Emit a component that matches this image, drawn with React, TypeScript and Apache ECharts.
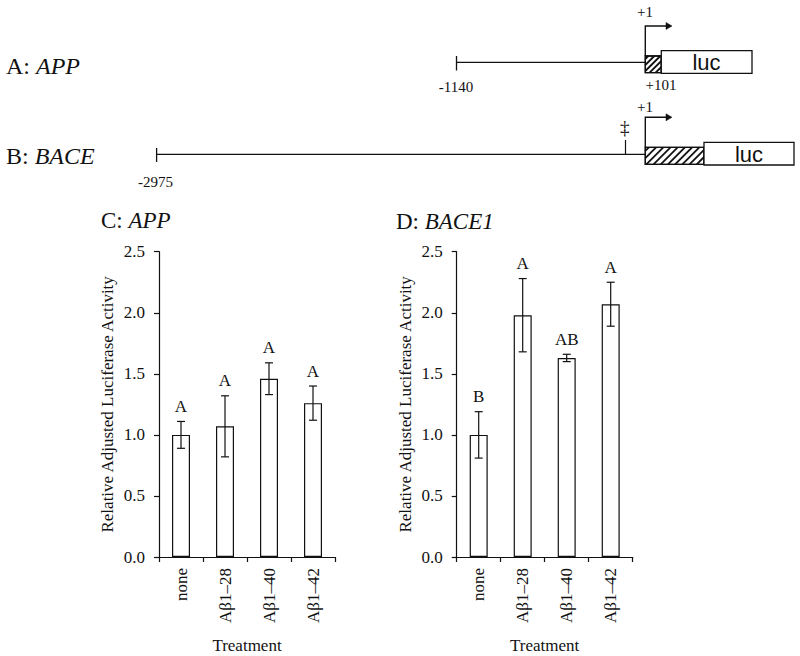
import React, { useEffect, useRef } from "react";
import * as echarts from "echarts";

const categories = ["none", "Aβ1–28", "Aβ1–40", "Aβ1–42"];
const yTicks = [0, 0.5, 1.0, 1.5, 2.0, 2.5];

const appMeans = [1.0, 1.07, 1.46, 1.26];
const appErrors = [0.11, 0.25, 0.13, 0.14];
const appLetters = ["A", "A", "A", "A"];

const baceMeans = [1.0, 1.98, 1.63, 2.07];
const baceErrors = [0.19, 0.3, 0.03, 0.18];
const baceLetters = ["B", "A", "AB", "A"];

const SERIF = "'Liberation Serif', 'Times New Roman', serif";
const SANS = "'Liberation Sans', Arial, sans-serif";
const INK = "#111";

function hatchLines(x0: number, y0: number, w: number, h: number, step: number) {
  const out: any[] = [];
  for (let c = x0 + y0 + step / 2; c < x0 + w + y0 + h; c += step) {
    const xa = Math.max(x0, c - (y0 + h));
    const xb = Math.min(x0 + w, c - y0);
    if (xb <= xa) continue;
    out.push({
      type: "line",
      shape: { x1: xa, y1: c - xa, x2: xb, y2: c - xb },
      style: { stroke: INK, lineWidth: 1.8 },
      silent: true,
    });
  }
  return out;
}

function arrow(x: number, yBottom: number, yTop: number, xEnd: number) {
  return [
    {
      type: "polyline",
      shape: { points: [[x, yBottom], [x, yTop], [xEnd - 5, yTop]] },
      style: { stroke: INK, lineWidth: 1.4, fill: "none" },
    },
    {
      type: "polygon",
      shape: { points: [[xEnd - 6, yTop - 3.5], [xEnd, yTop], [xEnd - 6, yTop + 3.5]] },
      style: { fill: INK, stroke: INK, lineWidth: 0.5 },
    },
  ];
}

function smallText(text: string, x: number, y: number, size = 15) {
  return {
    type: "text",
    x,
    y,
    style: {
      text,
      align: "center",
      verticalAlign: "middle",
      fontSize: size,
      fontFamily: SERIF,
      fill: INK,
    },
  };
}

function labelText(lead: string, gene: string, x: number, y: number, size: number) {
  return {
    type: "text",
    x,
    y,
    style: {
      text: `{r|${lead}}{i|${gene}}`,
      align: "left",
      verticalAlign: "middle",
      rich: {
        r: { fontSize: size, fontFamily: SERIF, fill: INK },
        i: { fontSize: size, fontFamily: SERIF, fontStyle: "italic", fill: INK },
      },
    },
  };
}

function diagram() {
  const els: any[] = [];
  // A: APP
  els.push(labelText("A: ", "APP", 6, 65.5, 24));
  els.push({ type: "line", shape: { x1: 456.5, y1: 62.3, x2: 645.3, y2: 62.3 }, style: { stroke: INK, lineWidth: 1.3 } });
  els.push({ type: "line", shape: { x1: 456.5, y1: 56, x2: 456.5, y2: 70.5 }, style: { stroke: INK, lineWidth: 1.3 } });
  els.push(smallText("-1140", 456, 87));
  els.push({ type: "rect", shape: { x: 645.3, y: 56, width: 16, height: 16.7 }, style: { fill: "#fff", stroke: INK, lineWidth: 1.3 } });
  els.push(...hatchLines(645.3, 56, 16, 16.7, 6));
  els.push({ type: "rect", shape: { x: 645.3, y: 56, width: 16, height: 16.7 }, style: { fill: "none", stroke: INK, lineWidth: 1.3 } });
  els.push({ type: "rect", shape: { x: 661.3, y: 50.7, width: 90.7, height: 22.6 }, style: { fill: "#fff", stroke: INK, lineWidth: 1.3 } });
  els.push({ type: "text", x: 706.5, y: 62, style: { text: "luc", align: "center", verticalAlign: "middle", fontSize: 22, fontFamily: SANS, fill: INK } });
  els.push(...arrow(645.3, 56, 26, 672));
  els.push(smallText("+1", 645, 12));
  els.push(smallText("+101", 661, 85));

  // B: BACE
  els.push(labelText("B: ", "BACE", 6, 155.5, 24));
  els.push({ type: "line", shape: { x1: 156.6, y1: 154.3, x2: 645.3, y2: 154.3 }, style: { stroke: INK, lineWidth: 1.3 } });
  els.push({ type: "line", shape: { x1: 156.6, y1: 148, x2: 156.6, y2: 162 }, style: { stroke: INK, lineWidth: 1.3 } });
  els.push(smallText("-2975", 155.6, 181.7));
  els.push({ type: "line", shape: { x1: 625.5, y1: 140, x2: 625.5, y2: 154.3 }, style: { stroke: INK, lineWidth: 1.2 } });
  els.push(smallText("‡", 624.8, 127, 19));
  els.push({ type: "rect", shape: { x: 645.3, y: 147.3, width: 58.7, height: 17 }, style: { fill: "#fff", stroke: INK, lineWidth: 1.3 } });
  els.push(...hatchLines(645.3, 147.3, 58.7, 17, 7.2));
  els.push({ type: "rect", shape: { x: 645.3, y: 147.3, width: 58.7, height: 17 }, style: { fill: "none", stroke: INK, lineWidth: 1.3 } });
  els.push({ type: "rect", shape: { x: 704, y: 142.3, width: 90, height: 22.7 }, style: { fill: "#fff", stroke: INK, lineWidth: 1.3 } });
  els.push({ type: "text", x: 749, y: 154, style: { text: "luc", align: "center", verticalAlign: "middle", fontSize: 22, fontFamily: SANS, fill: INK } });
  els.push(...arrow(645.3, 147.3, 117.3, 672));
  els.push(smallText("+1", 645, 107));

  // Panel titles
  els.push(labelText("C: ", "APP", 101, 220.5, 23));
  els.push(labelText("D: ", "BACE1", 396, 221, 23));
  return els;
}

function xAxisCfg(gridIndex: number) {
  return {
    type: "category",
    gridIndex,
    data: categories,
    boundaryGap: true,
    axisLine: { show: true, lineStyle: { color: INK, width: 1.2 } },
    axisTick: { show: true, length: 5, lineStyle: { color: INK, width: 1.2 } },
    axisLabel: { rotate: 90, margin: 11, fontSize: 17, fontFamily: SERIF, color: INK },
    name: "Treatment",
    nameLocation: "middle",
    nameGap: 80,
    nameTextStyle: { fontSize: 17, fontFamily: SERIF, color: INK },
    splitLine: { show: false },
  };
}

function yAxisCfg(gridIndex: number) {
  return {
    type: "value",
    gridIndex,
    min: yTicks[0],
    max: yTicks[yTicks.length - 1],
    interval: yTicks[1] - yTicks[0],
    axisLine: { show: true, lineStyle: { color: INK, width: 1.2 } },
    axisTick: { show: true, length: 5, lineStyle: { color: INK, width: 1.2 } },
    axisLabel: { margin: 14, fontSize: 17, fontFamily: SERIF, color: INK, formatter: (v: number) => v.toFixed(1) },
    splitLine: { show: false },
    name: "Relative Adjusted Luciferase Activity",
    nameLocation: "middle",
    nameGap: 43,
    nameTextStyle: { fontSize: 17, fontFamily: SERIF, color: INK },
  };
}

function barSeries(idx: number, means: number[]) {
  return {
    type: "bar",
    xAxisIndex: idx,
    yAxisIndex: idx,
    data: means,
    barWidth: 18,
    itemStyle: { color: "#fff", borderColor: INK, borderWidth: 1.2 },
    silent: true,
  };
}

function errSeries(idx: number, means: number[], errs: number[], letters: string[]) {
  return {
    type: "custom",
    xAxisIndex: idx,
    yAxisIndex: idx,
    z: 5,
    silent: true,
    data: means.map((m, i) => [i, m, errs[i]]),
    renderItem: (params: any, api: any) => {
      const i = api.value(0);
      const m = api.value(1);
      const e = api.value(2);
      const top = api.coord([i, m + e]);
      const bot = api.coord([i, m - e]);
      const x = top[0];
      const cw = 4;
      const st = { stroke: INK, lineWidth: 1.2 };
      return {
        type: "group",
        children: [
          { type: "line", shape: { x1: x, y1: top[1], x2: x, y2: bot[1] }, style: st },
          { type: "line", shape: { x1: x - cw, y1: top[1], x2: x + cw, y2: top[1] }, style: st },
          { type: "line", shape: { x1: x - cw, y1: bot[1], x2: x + cw, y2: bot[1] }, style: st },
          {
            type: "text",
            x,
            y: top[1] - 15,
            style: {
              text: letters[params.dataIndex],
              align: "center",
              verticalAlign: "middle",
              fontSize: 17,
              fontFamily: SERIF,
              fill: INK,
            },
          },
        ],
      };
    },
  };
}

export default function App() {
  const ref = useRef<HTMLDivElement>(null);
  useEffect(() => {
    if (!ref.current) return;
    const chart = echarts.init(ref.current, null, { renderer: "svg" });
    chart.setOption({
      animation: false,
      backgroundColor: "#fff",
      grid: [
        { left: 159, top: 251.7, width: 176, height: 305.3 },
        { left: 456.7, top: 251.7, width: 176, height: 305.3 },
      ],
      xAxis: [xAxisCfg(0), xAxisCfg(1)],
      yAxis: [yAxisCfg(0), yAxisCfg(1)],
      series: [
        barSeries(0, appMeans),
        barSeries(1, baceMeans),
        errSeries(0, appMeans, appErrors, appLetters),
        errSeries(1, baceMeans, baceErrors, baceLetters),
      ],
      graphic: diagram(),
    });
    return () => chart.dispose();
  }, []);
  return (
    <div
      ref={ref}
      style={{ position: "absolute", left: 0, top: 0, width: 800, height: 656, background: "#fff" }}
    />
  );
}
